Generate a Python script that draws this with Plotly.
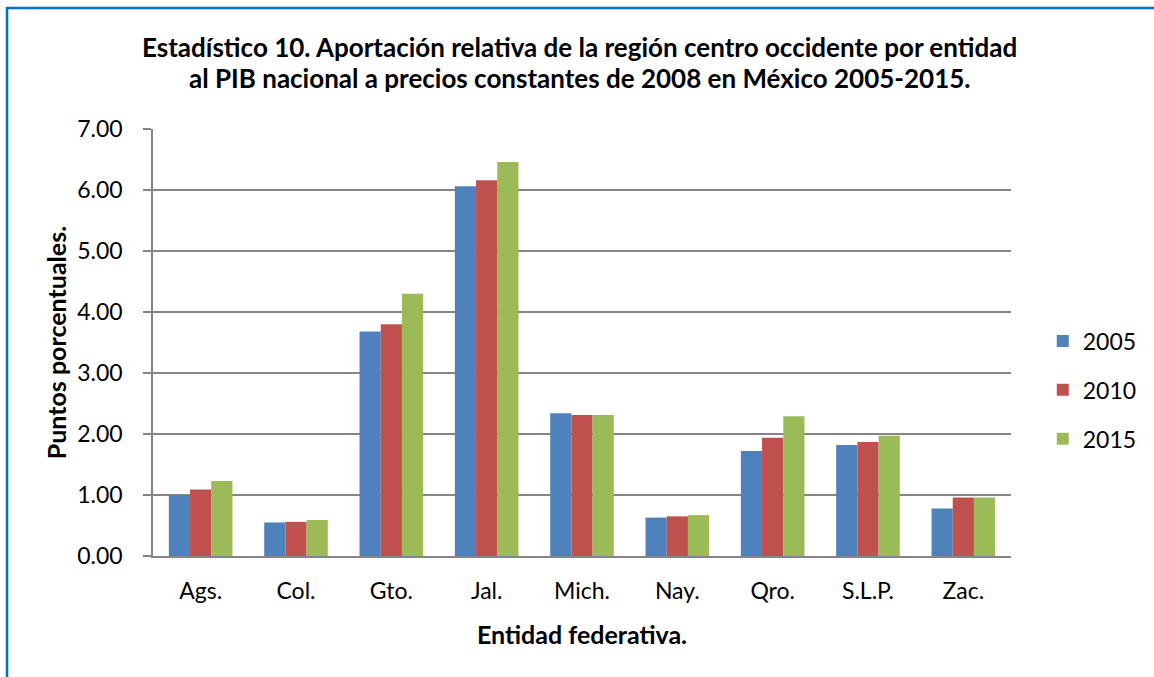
import plotly.graph_objects as go

# Entidades de la región centro occidente
entidades = ["Ags.", "Col.", "Gto.", "Jal.", "Mich.", "Nay.", "Qro.", "S.L.P.", "Zac."]

# Aportación al PIB nacional (puntos porcentuales)
serie_2005 = [1.00, 0.55, 3.68, 6.06, 2.34, 0.63, 1.72, 1.82, 0.78]
serie_2010 = [1.09, 0.56, 3.80, 6.16, 2.31, 0.65, 1.94, 1.87, 0.96]
serie_2015 = [1.23, 0.59, 4.30, 6.46, 2.31, 0.67, 2.29, 1.97, 0.96]

anios = ["2005", "2010", "2015"]
colores = ["#4F81BD", "#C0504D", "#9BBB59"]

y_ticks = [0, 1, 2, 3, 4, 5, 6, 7]
y_tick_text = ["0.00", "1.00", "2.00", "3.00", "4.00", "5.00", "6.00", "7.00"]

titulo_1 = "Estadístico 10. Aportación relativa de la región centro occidente por entidad"
titulo_2 = "al PIB nacional a precios constantes de 2008 en México 2005-2015."

FONT = "Lato"
GRAY = "#868686"

fig = go.Figure()
for nombre, valores, color in zip(anios, [serie_2005, serie_2010, serie_2015], colores):
    fig.add_trace(go.Bar(
        x=entidades, y=valores, name=nombre,
        marker=dict(color=color, line=dict(width=0)),
        legendgroup=nombre,
    ))

L, R, T, B = 153, 137, 129, 121
W, H = 1154, 677
pw, ph = W - L - R, H - T - B

def px_x(px):
    return (px - L) / pw

def px_y(py):
    return (H - B - py) / ph

def etiqueta(texto, x, y, size, angle=0):
    return dict(
        text=f"<b>{texto}</b>", xref="paper", yref="paper", x=x, y=y,
        xanchor="center", yanchor="middle", textangle=angle, showarrow=False,
        font=dict(family=FONT, size=size, color="black"),
    )

fig.update_layout(
    width=W, height=H,
    margin=dict(l=L, r=R, t=T, b=B, pad=0),
    paper_bgcolor="white", plot_bgcolor="white",
    font=dict(family=FONT, size=23, color="black"),
    barmode="group", bargap=0.333, bargroupgap=0,
    showlegend=True,
    legend=dict(
        x=px_x(1049), xanchor="left",
        y=px_y(390), yanchor="middle",
        font=dict(family=FONT, size=23, color="black"),
        tracegroupgap=16,
        bgcolor="rgba(0,0,0,0)",
    ),
    xaxis=dict(
        showline=True, linecolor=GRAY, linewidth=1.5,
        showgrid=False, ticks="", ticklabelstandoff=14,
        tickfont=dict(family=FONT, size=23, color="black"),
    ),
    yaxis=dict(
        range=[0, 7], tickvals=y_ticks, ticktext=y_tick_text,
        showline=True, linecolor=GRAY, linewidth=1.5,
        showgrid=True, gridcolor=GRAY, gridwidth=1.5,
        ticks="outside", ticklen=8, tickcolor=GRAY, tickwidth=1.5,
        ticklabelstandoff=16,
        tickfont=dict(family=FONT, size=23, color="black"),
        zeroline=False,
    ),
    annotations=[
        etiqueta(titulo_1, px_x(582), px_y(47), 26),
        etiqueta(titulo_2, px_x(583), px_y(78), 26),
        etiqueta("Puntos porcentuales.", px_x(55), 0.5, 25, angle=-90),
        etiqueta("Entidad federativa.", 0.5, px_y(634), 25),
    ],
    shapes=[
        dict(
            type="rect", xref="paper", yref="paper",
            x0=px_x(6), x1=px_x(1170), y0=px_y(700), y1=px_y(8),
            line=dict(color="#0070C0", width=2.5), fillcolor="rgba(0,0,0,0)",
        )
    ],
)

fig.write_html("out.html")
